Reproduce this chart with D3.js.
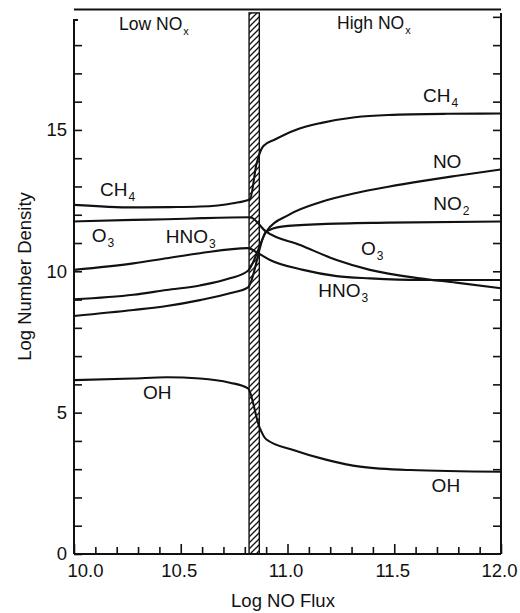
<!DOCTYPE html>
<html>
<head>
<meta charset="utf-8">
<script src="https://cdn.jsdelivr.net/npm/d3@7"></script>
<style>
  html, body { margin: 0; padding: 0; background: #fff; }
  svg { display: block; }
  text { font-family: "Liberation Sans", Arial, Helvetica, sans-serif; fill: #111; }
</style>
</head>
<body>
<svg id="chart" width="520" height="613"></svg>
<script>
// ---------- DATA (Log NO Flux, Log Number Density) ----------
const ch4 = [[10.0,12.35],[10.278,12.26],[10.45,12.27],[10.59,12.29],[10.745,12.41],[10.824,12.55],[10.855,13.8],[10.887,14.43],[10.941,14.66],[11.035,14.99],[11.16,15.25],[11.316,15.45],[11.472,15.53],[11.75,15.57],[12.0,15.58]];
const o3 = [[10.0,11.76],[10.278,11.82],[10.434,11.84],[10.6,11.88],[10.824,11.91],[10.9,11.40],[11.059,10.93],[11.23,10.40],[11.386,10.05],[11.62,9.75],[11.79,9.60],[12.0,9.40]];
const hno3 = [[10.0,10.05],[10.278,10.28],[10.434,10.46],[10.59,10.64],[10.815,10.82],[10.86,10.65],[10.918,10.40],[11.073,10.05],[11.23,9.83],[11.386,9.75],[11.62,9.69],[12.0,9.69]];
const no = [[10.0,9.01],[10.278,9.17],[10.434,9.34],[10.59,9.50],[10.73,9.75],[10.815,10.02],[10.9,11.40],[11.004,11.99],[11.16,12.46],[11.316,12.76],[11.472,12.99],[11.628,13.19],[11.785,13.37],[12.0,13.60]];
const no2 = [[10.0,8.42],[10.278,8.63],[10.434,8.77],[10.59,8.98],[10.73,9.22],[10.815,9.43],[10.9,11.40],[10.973,11.58],[11.16,11.67],[11.472,11.72],[12.0,11.76]];
const oh = [[10.0,6.15],[10.278,6.21],[10.434,6.25],[10.59,6.21],[10.73,6.06],[10.815,5.86],[10.868,4.5],[10.9,4.06],[11.027,3.68],[11.184,3.33],[11.34,3.09],[11.574,2.97],[12.0,2.91]];
const seriesList = [ch4, o3, hno3, no, no2, oh];

const transitionBand = [10.82, 10.868];          // hatched Low/High NOx boundary
const xMajorTicks = [10.0, 10.5, 11.0, 11.5, 12.0];
const xMajorLabels = ["10.0", "10.5", "11.0", "11.5", "12.0"];
const yMajorTicks = [0, 5, 10, 15];
const yMajorLabels = ["0", "5", "10", "15"];
const xTitle = "Log NO Flux";
const yTitle = "Log Number Density";

// label: [main, subscript, x (flux), y (density) baseline]
const labelNames = [["CH","4"],["O","3"],["HNO","3"],["OH",""],["CH","4"],["NO",""],["NO","2"],["O","3"],["HNO","3"],["OH",""]];
const labelAnchors = [[10.122,12.66],[10.083,11.05],[10.43,11.01],[10.323,5.48],[11.635,16.0],[11.681,13.645],[11.683,12.17],[11.344,10.58],[11.144,9.10],[11.675,2.20]];
const regionNames = [["Low NO","x"],["High NO","x"]];
const regionAnchors = [[10.211,18.54],[11.232,18.57]];

// ---------- LAYOUT ----------
const svg = d3.select("#chart");
const x = d3.scaleLinear().domain([10, 12]).range([74, 501]);
const yTopVal = 19.26;
const y = d3.scaleLinear().domain([0, yTopVal]).range([554, 9.5]);
const ink = "#111";

// hatch pattern
const defs = svg.append("defs");
const pat = defs.append("pattern").attr("id", "hatch").attr("patternUnits", "userSpaceOnUse")
  .attr("width", 6).attr("height", 6);
pat.append("path").attr("d", "M-1,7 L7,-1 M-4,4 L4,-4 M2,10 L10,2")
  .attr("stroke", ink).attr("stroke-width", 1.3);

// hatched band
svg.append("rect")
  .attr("x", x(transitionBand[0])).attr("y", y(19.14))
  .attr("width", x(transitionBand[1]) - x(transitionBand[0]))
  .attr("height", y(0) - y(19.14))
  .attr("fill", "url(#hatch)").attr("stroke", ink).attr("stroke-width", 1.4);

// frame lines
svg.append("line").attr("x1", x(10)).attr("x2", x(12)).attr("y1", y(yTopVal)).attr("y2", y(yTopVal))
  .attr("stroke", ink).attr("stroke-width", 2);
svg.append("path")
  .attr("d", `M${x(10)+4},${y(18.89)} L${x(10)},${y(18.89)} L${x(10)},${y(0)}`)
  .attr("fill", "none").attr("stroke", ink).attr("stroke-width", 2);
svg.append("line").attr("x1", x(12)).attr("x2", x(12)).attr("y1", y(19.14)).attr("y2", y(0))
  .attr("stroke", ink).attr("stroke-width", 2);
svg.append("line").attr("x1", x(10)).attr("x2", x(12)).attr("y1", y(0)).attr("y2", y(0))
  .attr("stroke", ink).attr("stroke-width", 2);

function styleAxis(g) {
  g.select(".domain").remove();
  g.selectAll(".tick line").attr("stroke", ink).attr("stroke-width", 1.6);
}

// left axis
const yMinor = d3.range(0, 19);
const gL = svg.append("g").attr("transform", `translate(${x(10)},0)`)
  .call(d3.axisLeft(y).tickValues(yMinor).tickSizeInner(-8).tickSizeOuter(0).tickPadding(7)
    .tickFormat(d => { const i = yMajorTicks.indexOf(d); return i >= 0 ? yMajorLabels[i] : ""; }));
styleAxis(gL);
gL.selectAll("text").attr("font-size", 18.5).attr("fill", ink)
  .attr("font-family", "'Liberation Sans', Arial, sans-serif");

// right axis
const gR = svg.append("g").attr("transform", `translate(${x(12)},0)`)
  .call(d3.axisRight(y).tickValues(d3.range(1, 20)).tickSizeInner(-8).tickSizeOuter(0).tickFormat(""));
styleAxis(gR);

// bottom axis: minor
const xMinor = d3.range(0, 21).map(i => 10 + i * 0.1).filter(v => !xMajorTicks.some(m => Math.abs(m - v) < 1e-6));
const gBm = svg.append("g").attr("transform", `translate(0,${y(0)})`)
  .call(d3.axisBottom(x).tickValues(xMinor).tickSizeInner(-7).tickSizeOuter(0).tickFormat(""));
styleAxis(gBm);
const gB = svg.append("g").attr("transform", `translate(0,${y(0)})`)
  .call(d3.axisBottom(x).tickValues(xMajorTicks).tickSizeInner(-10).tickSizeOuter(0).tickPadding(0)
    .tickFormat((d, i) => xMajorLabels[i]));
styleAxis(gB);
gB.selectAll(".tick text").attr("font-size", 18.5).attr("fill", ink)
  .attr("font-family", "'Liberation Sans', Arial, sans-serif")
  .attr("dy", null).attr("y", 22.5)
  .attr("dx", (d, i) => i === 0 ? 11 : -2);

// axis titles
svg.append("text").attr("x", 283).attr("y", 606.5).attr("text-anchor", "middle")
  .attr("font-size", 18.5).text(xTitle);
svg.append("text").attr("transform", "translate(30.5,276.5) rotate(-90)").attr("text-anchor", "middle")
  .attr("font-size", 18.5).text(yTitle);

// curves
const line = d3.line().x(d => x(d[0])).y(d => y(d[1])).curve(d3.curveMonotoneX);
svg.append("g").selectAll("path").data(seriesList).join("path")
  .attr("d", line).attr("fill", "none").attr("stroke", ink).attr("stroke-width", 2.1)
  .attr("stroke-linejoin", "round").attr("stroke-linecap", "round");

// series labels
labelNames.forEach((n, i) => {
  const t = svg.append("text").attr("x", x(labelAnchors[i][0])).attr("y", y(labelAnchors[i][1]))
    .attr("font-size", 19);
  t.append("tspan").text(n[0]);
  if (n[1]) t.append("tspan").attr("font-size", 12).attr("dy", 5).attr("dx", 1).text(n[1]);
});
regionNames.forEach((n, i) => {
  const t = svg.append("text").attr("x", x(regionAnchors[i][0])).attr("y", y(regionAnchors[i][1]))
    .attr("font-size", 17.5);
  t.append("tspan").text(n[0]);
  t.append("tspan").attr("font-size", 11).attr("dy", 5).attr("dx", 1).text(n[1]);
});
</script>
</body>
</html>
